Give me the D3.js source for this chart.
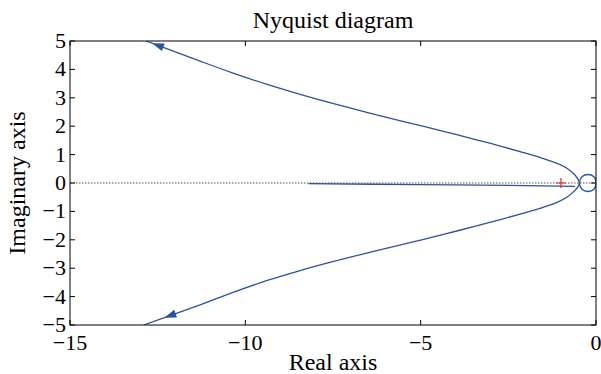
<!DOCTYPE html>
<html>
<head>
<meta charset="utf-8">
<script src="https://cdn.jsdelivr.net/npm/d3@7"></script>
<style>
  body { margin: 0; background: #fff; }
  svg text { font-family: "Liberation Serif", "Times New Roman", serif; fill: #000; }
</style>
</head>
<body>
<div id="chart"></div>
<script>
const W = 601, H = 374;
const margin = { top: 41, right: 5, bottom: 49, left: 70 };

// upper branch (real, imag)
const upperRe = [-12.83, -11.31, -10.37, -9.4, -8.46, -7.51, -6.54, -5.6, -4.94, -3.97, -3.03, -2.09, -1.6, -1.11, -0.83, -0.6, -0.5, -0.47];
const upperIm = [5.0, 4.3, 3.88, 3.48, 3.13, 2.8, 2.49, 2.2, 2.0, 1.7, 1.4, 1.08, 0.9, 0.69, 0.52, 0.28, 0.1, 0.0];
// lower branch
const lowerRe = [-12.9, -11.31, -10.37, -9.4, -8.46, -7.51, -6.54, -5.6, -4.94, -3.97, -3.03, -2.09, -1.6, -1.11, -0.83, -0.6, -0.5, -0.47];
const lowerIm = [-5.0, -4.3, -3.86, -3.44, -3.09, -2.77, -2.47, -2.19, -1.99, -1.69, -1.39, -1.07, -0.89, -0.68, -0.5, -0.26, -0.1, 0.0];
// small loop around the origin
const loopRe = [-0.47, -0.4, -0.23, -0.06, 0.0, -0.06, -0.23, -0.4];
const loopIm = [0.0, 0.22, 0.3, 0.22, 0.0, -0.22, -0.3, -0.22];
// nearly horizontal segment
const flatRe = [-8.2, -5, -2, -0.6];
const flatIm = [-0.02, -0.06, -0.09, -0.12];

const xTicks = [-15, -10, -5, 0];
const yTicks = [-5, -4, -3, -2, -1, 0, 1, 2, 3, 4, 5];
const critical = [-1, 0];
const arrowAt = [
  { re: -12.5, im: 4.85, toRe: -12.83, toIm: 5.0 },
  { re: -12.15, im: -4.67, toRe: -12.9, toIm: -5.0 }
];

const blue = "#2a52a0";

const svg = d3.select("#chart").append("svg").attr("width", W).attr("height", H);
svg.append("rect").attr("width", W).attr("height", H).attr("fill", "#fff");

const x = d3.scaleLinear().domain([-15, 0]).range([margin.left, W - margin.right]);
const y = d3.scaleLinear().domain([-5, 5]).range([H - margin.bottom, margin.top]);

svg.append("defs").append("clipPath").attr("id", "clip")
  .append("rect")
  .attr("x", margin.left).attr("y", margin.top)
  .attr("width", x(0) - x(-15)).attr("height", y(-5) - y(5));

const plot = svg.append("g").attr("clip-path", "url(#clip)");

// dotted zero line
plot.append("line")
  .attr("x1", x(-15)).attr("x2", x(0))
  .attr("y1", y(0)).attr("y2", y(0))
  .attr("stroke", "#555").attr("stroke-width", 1).attr("stroke-dasharray", "1.5,1.5");

const line = d3.line().x((d) => x(d[0])).y((d) => y(d[1])).curve(d3.curveCatmullRom);
const zip = (a, b) => a.map((v, i) => [v, b[i]]);

plot.append("path").datum(zip(upperRe, upperIm)).attr("d", line)
  .attr("fill", "none").attr("stroke", blue).attr("stroke-width", 1.3);
plot.append("path").datum(zip(lowerRe, lowerIm)).attr("d", line)
  .attr("fill", "none").attr("stroke", blue).attr("stroke-width", 1.3);
plot.append("path").datum(zip(loopRe, loopIm))
  .attr("d", d3.line().x((d) => x(d[0])).y((d) => y(d[1])).curve(d3.curveCatmullRomClosed))
  .attr("fill", "none").attr("stroke", blue).attr("stroke-width", 1.3);
plot.append("path").datum(zip(flatRe, flatIm)).attr("d", line)
  .attr("fill", "none").attr("stroke", blue).attr("stroke-width", 1.3);

// arrows
arrowAt.forEach((a) => {
  const px = x(a.re), py = y(a.im);
  const ang = Math.atan2(y(a.toIm) - py, x(a.toRe) - px) * 180 / Math.PI;
  plot.append("path")
    .attr("d", "M6,0 L-6,-4 L-6,4 Z")
    .attr("transform", `translate(${px},${py}) rotate(${ang})`)
    .attr("fill", blue);
});

// critical point
svg.append("path")
  .attr("d", "M-5,0 L5,0 M0,-5 L0,5")
  .attr("transform", `translate(${x(critical[0])},${y(critical[1])})`)
  .attr("stroke", "#e02828").attr("stroke-width", 1.2);

// frame and ticks
const tickLen = 5;
const axes = svg.append("g").attr("stroke", "#000").attr("stroke-width", 1);
axes.append("rect")
  .attr("x", margin.left).attr("y", margin.top)
  .attr("width", x(0) - x(-15)).attr("height", y(-5) - y(5))
  .attr("fill", "none");

xTicks.forEach((t) => {
  axes.append("line").attr("x1", x(t)).attr("x2", x(t)).attr("y1", y(-5)).attr("y2", y(-5) - tickLen);
  axes.append("line").attr("x1", x(t)).attr("x2", x(t)).attr("y1", y(5)).attr("y2", y(5) + tickLen);
});
yTicks.forEach((t) => {
  axes.append("line").attr("x1", x(-15)).attr("x2", x(-15) + tickLen).attr("y1", y(t)).attr("y2", y(t));
  axes.append("line").attr("x1", x(0)).attr("x2", x(0) - tickLen).attr("y1", y(t)).attr("y2", y(t));
});

const fmt = (v) => (v < 0 ? "\u2212" + Math.abs(v) : String(v));

svg.selectAll("text.xt").data(xTicks).enter().append("text")
  .attr("class", "xt")
  .attr("x", (d) => x(d)).attr("y", y(-5) + 25)
  .attr("text-anchor", "middle")
  .attr("font-size", 22)
  .text(fmt);

svg.selectAll("text.yt").data(yTicks).enter().append("text")
  .attr("class", "yt")
  .attr("x", x(-15) - 4).attr("y", (d) => y(d) + 7)
  .attr("text-anchor", "end")
  .attr("font-size", 22)
  .text(fmt);

svg.append("text")
  .attr("x", (x(-15) + x(0)) / 2).attr("y", 28)
  .attr("text-anchor", "middle").attr("font-size", 24)
  .text("Nyquist diagram");

svg.append("text")
  .attr("x", (x(-15) + x(0)) / 2).attr("y", 370)
  .attr("text-anchor", "middle").attr("font-size", 24)
  .text("Real axis");

svg.append("text")
  .attr("transform", `translate(25,${(y(-5) + y(5)) / 2}) rotate(-90)`)
  .attr("text-anchor", "middle").attr("font-size", 24)
  .text("Imaginary axis");
</script>
</body>
</html>
